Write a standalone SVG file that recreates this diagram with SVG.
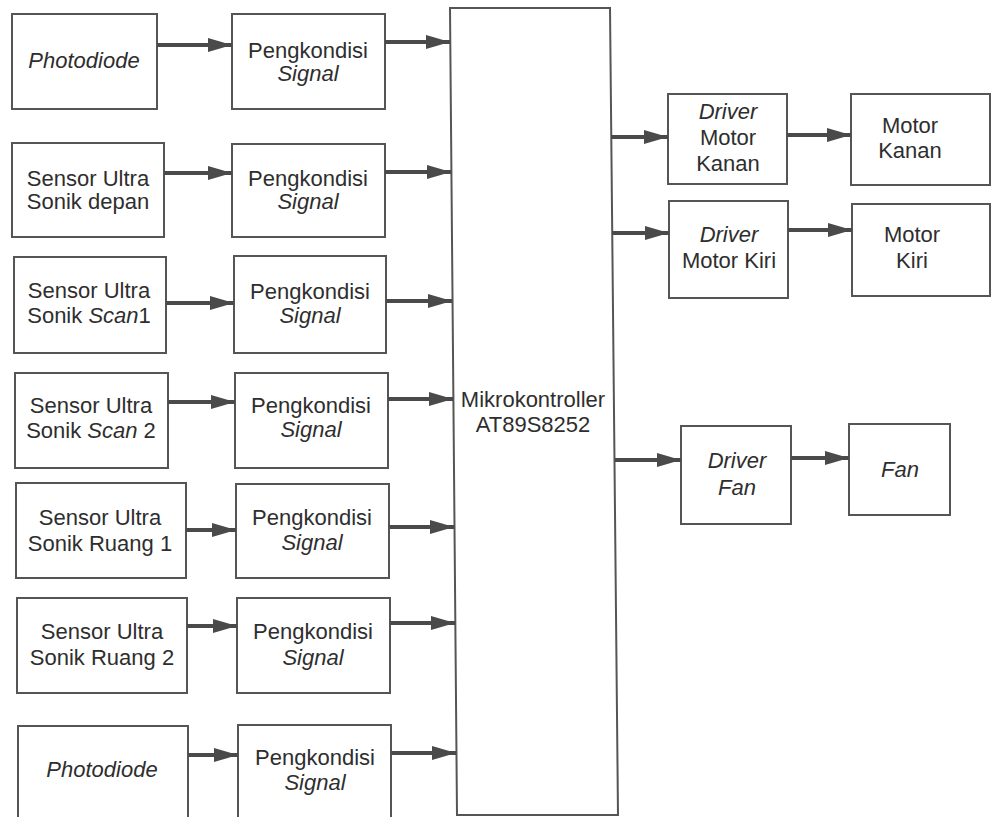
<svg xmlns="http://www.w3.org/2000/svg" width="991" height="817" viewBox="0 0 991 817">
<defs>
<marker id="ah" markerUnits="userSpaceOnUse" markerWidth="26" markerHeight="14" refX="24" refY="7" orient="auto">
<path d="M0,0 L24,7 L0,14 z" fill="#4a4a4a"/>
</marker>
<style>
.box{fill:#fff;stroke:#555;stroke-width:2}
.t{font-family:"Liberation Sans",Arial,sans-serif;font-size:22px;fill:#2e2e2e;text-anchor:middle}
.i{font-style:italic}
.c line{stroke:#4a4a4a;stroke-width:4;marker-end:url(#ah)}
</style>
</defs>
<rect width="991" height="817" fill="#fff"/>

<g id="pd1"><rect class="box" x="12" y="14" width="145" height="95"/><text class="t i" x="84" y="68">Photodiode</text></g>
<g id="peng1"><rect class="box" x="232" y="14" width="153" height="95"/><text class="t" x="308" y="58">Pengkondisi</text><text class="t i" x="308" y="81">Signal</text></g>

<g id="sdepan"><rect class="box" x="12" y="143" width="152" height="94"/><text class="t" x="88" y="186">Sensor Ultra</text><text class="t" x="88" y="209">Sonik depan</text></g>
<g id="peng2"><rect class="box" x="232" y="144" width="153" height="93"/><text class="t" x="308" y="186">Pengkondisi</text><text class="t i" x="308" y="209">Signal</text></g>

<g id="sscan1"><rect class="box" x="14" y="257" width="152" height="96"/><text class="t" x="89" y="298">Sensor Ultra</text><text class="t" x="89" y="323">Sonik <tspan class="i">Scan</tspan>1</text></g>
<g id="peng3"><rect class="box" x="234" y="256" width="152" height="97"/><text class="t" x="310" y="299">Pengkondisi</text><text class="t i" x="310" y="323">Signal</text></g>

<g id="sscan2"><rect class="box" x="15" y="373" width="153" height="95"/><text class="t" x="91" y="413">Sensor Ultra</text><text class="t" x="91" y="438">Sonik <tspan class="i">Scan</tspan> 2</text></g>
<g id="peng4"><rect class="box" x="235" y="373" width="153" height="95"/><text class="t" x="311" y="413">Pengkondisi</text><text class="t i" x="311" y="437">Signal</text></g>

<g id="sruang1"><rect class="box" x="16" y="483" width="170" height="95"/><text class="t" x="100" y="525">Sensor Ultra</text><text class="t" x="100" y="551">Sonik Ruang 1</text></g>
<g id="peng5"><rect class="box" x="236" y="484" width="153" height="94"/><text class="t" x="312" y="525">Pengkondisi</text><text class="t i" x="312" y="550">Signal</text></g>

<g id="sruang2"><rect class="box" x="17" y="598" width="170" height="95"/><text class="t" x="102" y="639">Sensor Ultra</text><text class="t" x="102" y="665">Sonik Ruang 2</text></g>
<g id="peng6"><rect class="box" x="237" y="598" width="153" height="95"/><text class="t" x="313" y="639">Pengkondisi</text><text class="t i" x="313" y="665">Signal</text></g>

<g id="pd2"><rect class="box" x="18" y="726" width="170" height="100"/><text class="t i" x="102" y="777">Photodiode</text></g>
<g id="peng7"><rect class="box" x="238" y="725" width="153" height="100"/><text class="t" x="315" y="765">Pengkondisi</text><text class="t i" x="315" y="790">Signal</text></g>

<g id="mcu"><polygon class="box" points="450,8 610,8 618,815 457,815"/><text class="t" x="533" y="407">Mikrokontroller</text><text class="t" x="533" y="432">AT89S8252</text></g>

<g id="dmkanan"><rect class="box" x="668" y="94" width="119" height="90"/><text class="t i" x="728" y="119">Driver</text><text class="t" x="728" y="145">Motor</text><text class="t" x="728" y="171">Kanan</text></g>
<g id="mkanan"><rect class="box" x="851" y="94" width="139" height="91"/><text class="t" x="910" y="133">Motor</text><text class="t" x="910" y="158">Kanan</text></g>

<g id="dmkiri"><rect class="box" x="669" y="201" width="119" height="97"/><text class="t i" x="729" y="242">Driver</text><text class="t" x="729" y="268">Motor Kiri</text></g>
<g id="mkiri"><rect class="box" x="852" y="204" width="138" height="92"/><text class="t" x="912" y="242">Motor</text><text class="t" x="912" y="268">Kiri</text></g>

<g id="dfan"><rect class="box" x="681" y="426" width="110" height="98"/><text class="t i" x="737" y="468">Driver</text><text class="t i" x="737" y="495">Fan</text></g>
<g id="fan"><rect class="box" x="849" y="424" width="101" height="91"/><text class="t i" x="900" y="477">Fan</text></g>

<g id="connectors" class="c">
<line x1="157" y1="45" x2="232" y2="45"/>
<line x1="385" y1="42" x2="450" y2="42"/>
<line x1="164" y1="173" x2="232" y2="173"/>
<line x1="385" y1="172" x2="451" y2="172"/>
<line x1="166" y1="303" x2="234" y2="303"/>
<line x1="386" y1="301" x2="452" y2="301"/>
<line x1="168" y1="402" x2="235" y2="402"/>
<line x1="388" y1="399" x2="453" y2="399"/>
<line x1="186" y1="530" x2="236" y2="530"/>
<line x1="389" y1="527" x2="454" y2="527"/>
<line x1="187" y1="626" x2="237" y2="626"/>
<line x1="390" y1="623" x2="455" y2="623"/>
<line x1="188" y1="755" x2="238" y2="755"/>
<line x1="391" y1="753" x2="456" y2="753"/>
<line x1="611" y1="137" x2="668" y2="137"/>
<line x1="787" y1="135" x2="851" y2="135"/>
<line x1="612" y1="233" x2="669" y2="233"/>
<line x1="788" y1="230" x2="852" y2="230"/>
<line x1="615" y1="460" x2="681" y2="460"/>
<line x1="791" y1="458" x2="849" y2="458"/>
</g>
</svg>
